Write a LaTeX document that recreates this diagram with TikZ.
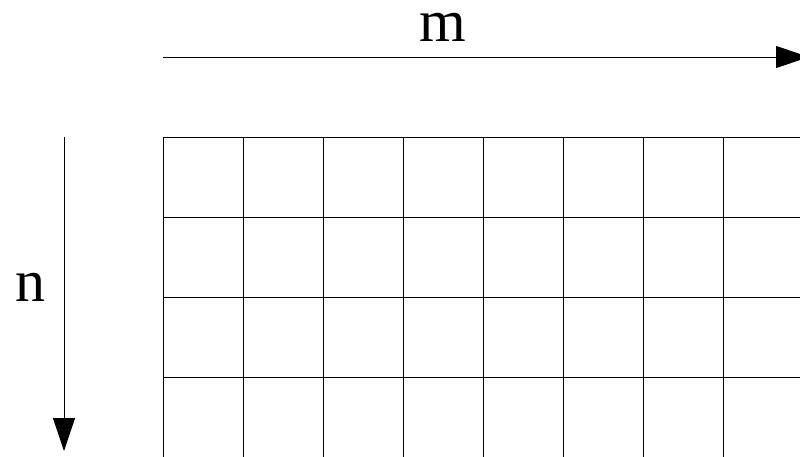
\documentclass[tikz,border=0pt]{standalone}
\usepackage{fontspec}
\setmainfont{Liberation Serif}
\usetikzlibrary{arrows.meta}
\begin{document}
\begin{tikzpicture}[x=1pt,y=-1pt,
  gridline/.style={line width=1pt,black},
  axis/.style={line width=1pt,black,-{Triangle[length=33pt,width=22pt]}},
  lbl/.style={font=\fontsize{60}{60}\selectfont,inner sep=0pt,anchor=base}]
\useasboundingbox (0,0) rectangle (800,456);
\clip (0,0) rectangle (800,456);
\foreach \i in {0,...,8} {
  \draw[gridline] (163+80*\i,137) -- (163+80*\i,540);
}
\foreach \j in {0,...,4} {
  \draw[gridline] (163,137+80*\j) -- (900,137+80*\j);
}
\coordinate (mstart) at (163,57);
\coordinate (mend) at (809,57);
\draw[axis] (mstart) -- (mend);
\coordinate (nstart) at (64,137);
\coordinate (nend) at (64,451);
\draw[axis] (nstart) -- (nend);
\node[lbl] (m) at (443,41) {m};
\node[lbl] (n) at (31,301) {n};
\end{tikzpicture}
\end{document}
